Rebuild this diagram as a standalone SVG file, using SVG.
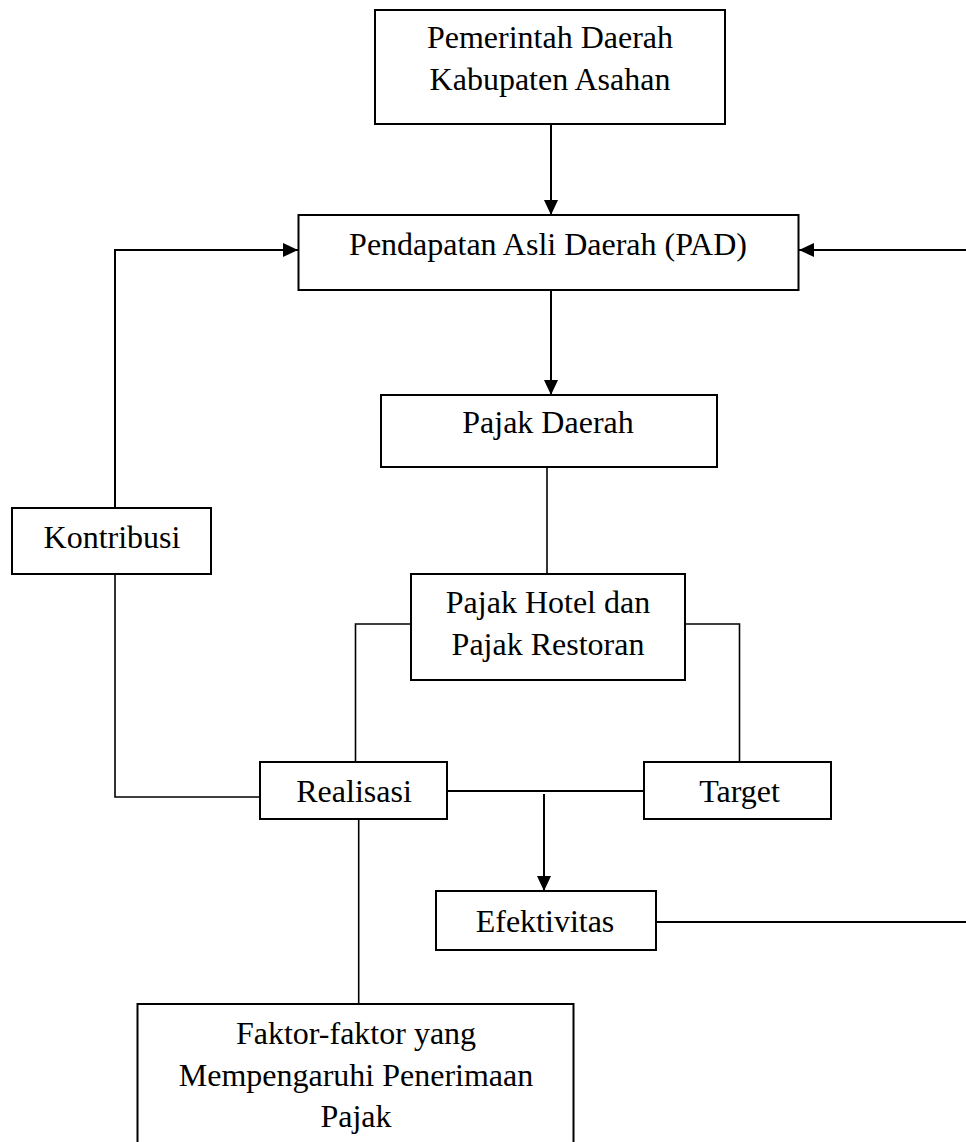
<svg xmlns="http://www.w3.org/2000/svg" width="966" height="1142" viewBox="0 0 966 1142">
<style>
.box{fill:#fff;stroke:#000;stroke-width:2}
.ln{fill:none;stroke:#000;stroke-width:1.6}
.ar{fill:none;stroke:#000;stroke-width:2}
text{font-family:"Liberation Serif","Times New Roman",serif;font-size:32px;fill:#000;text-anchor:middle}
</style>
<defs>
<marker id="ah" viewBox="0 0 15 14" refX="15" refY="7" markerWidth="15" markerHeight="14" markerUnits="userSpaceOnUse" orient="auto">
<path d="M0,0 L15,7 L0,14 z" fill="#000"/>
</marker>
</defs>
<rect x="0" y="0" width="966" height="1142" fill="#fff"/>
<g id="connectors">
<path class="ar" d="M551,124 V215" marker-end="url(#ah)"/>
<path class="ar" d="M551,290 V395" marker-end="url(#ah)"/>
<path class="ln" d="M547,467 V574"/>
<path class="ar" d="M115,508 V250 H298" marker-end="url(#ah)"/>
<path class="ln" d="M115,574 V797 H260"/>
<path class="ln" d="M411,624 H355.5 V762"/>
<path class="ln" d="M685,624 H739.5 V762"/>
<path class="ar" d="M447,791 H644"/>
<path class="ar" d="M544,794 V891" marker-end="url(#ah)"/>
<path class="ar" d="M656,922 H969 V250 H799" marker-end="url(#ah)"/>
<path class="ln" d="M358.7,819 V1004"/>
</g>
<g id="pemda">
<rect class="box" x="375" y="10" width="350" height="114"/>
<text x="550" y="48">Pemerintah Daerah</text>
<text x="550" y="90">Kabupaten Asahan</text>
</g>
<g id="pad">
<rect class="box" x="298.5" y="215" width="500" height="75"/>
<text x="548" y="255">Pendapatan Asli Daerah (PAD)</text>
</g>
<g id="pajak-daerah">
<rect class="box" x="381" y="395" width="336" height="72"/>
<text x="548" y="433">Pajak Daerah</text>
</g>
<g id="kontribusi">
<rect class="box" x="12" y="508" width="199" height="66"/>
<text x="112" y="548">Kontribusi</text>
</g>
<g id="pajak-hotel-restoran">
<rect class="box" x="411" y="574" width="274" height="106"/>
<text x="548" y="613">Pajak Hotel dan</text>
<text x="548" y="655">Pajak Restoran</text>
</g>
<g id="realisasi">
<rect class="box" x="260" y="762" width="187" height="57"/>
<text x="354" y="802">Realisasi</text>
</g>
<g id="target">
<rect class="box" x="644" y="762" width="187" height="57"/>
<text x="739.5" y="802">Target</text>
</g>
<g id="efektivitas">
<rect class="box" x="436" y="891" width="220" height="59"/>
<text x="545" y="932">Efektivitas</text>
</g>
<g id="faktor">
<rect class="box" x="137.5" y="1004" width="436" height="150"/>
<text x="356" y="1044">Faktor-faktor yang</text>
<text x="356" y="1086">Mempengaruhi Penerimaan</text>
<text x="356" y="1127">Pajak</text>
</g>
</svg>
